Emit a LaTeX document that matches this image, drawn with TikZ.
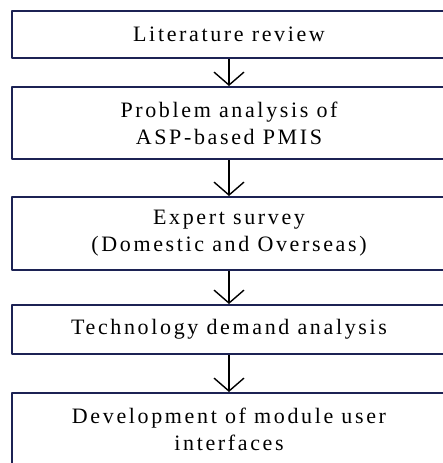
\documentclass[tikz,border=0pt]{standalone}
\usepackage{fontspec}
\setmainfont{Liberation Serif}[LetterSpace=12]
\usetikzlibrary{arrows.meta}
\definecolor{boxnavy}{RGB}{28,34,84}

\begin{document}
\begin{tikzpicture}[x=1pt,y=-1pt,line join=round,
  stage/.style={draw=boxnavy,line width=2pt,minimum width=434pt,inner sep=0pt,
    align=center,font=\fontsize{22pt}{27pt}\selectfont},
  flow/.style={line width=1.4pt,-{Straight Barb[length=13pt,width=30pt,line width=1.4pt]}}]
\useasboundingbox (0,0) rectangle (442,463);
\node[stage,minimum height=47pt] (lit) at (229,34.5) {Literature review};
\node[stage,minimum height=72pt] (prob) at (229,123) {Problem analysis of\\ASP-based PMIS};
\node[stage,minimum height=73pt] (expert) at (229,233.5) {Expert survey\\(Domestic and Overseas)};
\node[stage,minimum height=49pt] (tech) at (229,329.5) {Technology demand analysis};
\node[stage,minimum height=72pt] (dev) at (229,429) {Development of module user\\interfaces};
\draw[flow](lit)--(prob);
\draw[flow](prob)--(expert);
\draw[flow](expert)--(tech);
\draw[flow](tech)--(dev);
\end{tikzpicture}
\end{document}
